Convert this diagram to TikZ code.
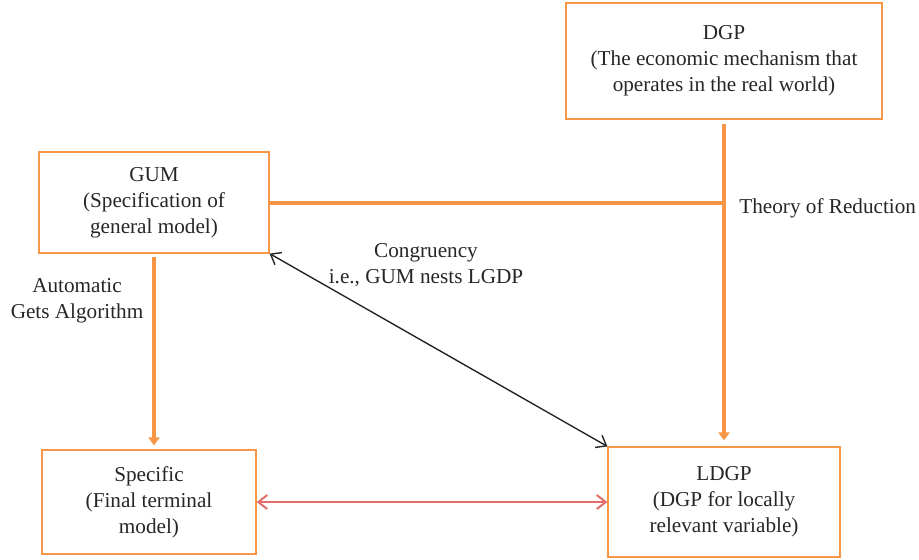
\documentclass[tikz,border=0pt]{standalone}
\usepackage{fontspec}
\setmainfont{Liberation Serif}
\usetikzlibrary{arrows.meta}

\definecolor{boxorange}{HTML}{F79646}
\definecolor{linkred}{HTML}{E46C6C}
\definecolor{inkgray}{HTML}{262626}

\begin{document}
\begin{tikzpicture}[x=0.5pt,y=-0.5pt,
    font=\fontsize{10.6}{13}\selectfont,
    box/.style={draw=boxorange,line width=0.6pt,align=center,text=inkgray,
                inner sep=0pt},
    reduce/.style={draw=boxorange,line width=2pt},
    flow/.style={reduce,-{Triangle[width=5.5pt,length=4pt]}},
    congr/.style={draw=inkgray,line width=0.7pt,
                  {Straight Barb[width=7pt,length=4.5pt]}-{Straight Barb[width=7pt,length=4.5pt]}},
    match/.style={draw=linkred,line width=1pt,
                  {Straight Barb[width=7pt,length=4.5pt]}-{Straight Barb[width=7pt,length=4.5pt]}},
    lbl/.style={align=center,text=inkgray,inner sep=0pt}]
    \useasboundingbox (0,0) rectangle (919,559);
    % riquadri
    \node[box,minimum width=158pt,minimum height=58pt] (dgp) at (724,61)
         {DGP\\(The economic mechanism that\\operates in the real world)};
    \node[box,minimum width=115pt,minimum height=50.5pt] (gum) at (154,202.5)
         {GUM\\(Specification of\\general model)};
    \node[box,minimum width=107pt,minimum height=52pt] (spec) at (149,502)
         {Specific\\(Final terminal\\model)};
    \node[box,minimum width=116pt,minimum height=55pt] (ldgp) at (724,502)
         {LDGP\\(DGP for locally\\relevant variable)};
    % collegamenti
    \draw[flow,shorten <=2pt,shorten >=3pt] (dgp) -- (ldgp); %teoria della riduzione
    \draw[reduce] (gum.east) -- (gum.east -| ldgp.north);
    \draw[flow,shorten <=1.5pt,shorten >=2pt] (gum.south) -- (gum.south |- spec.north); %algoritmo
    \draw[congr] (gum.south east) -- (ldgp.north west);
    \draw[match] (spec.east) -- (ldgp.west);
    % etichette
    \node[lbl,anchor=west] (theory) at (739,208) {Theory of Reduction};
    \node[lbl] (cong) at (426,265) {Congruency\\i.e., GUM nests LGDP};
    \node[lbl] (gets) at (77,301) {Automatic\\Gets Algorithm};
\end{tikzpicture}
\end{document}
